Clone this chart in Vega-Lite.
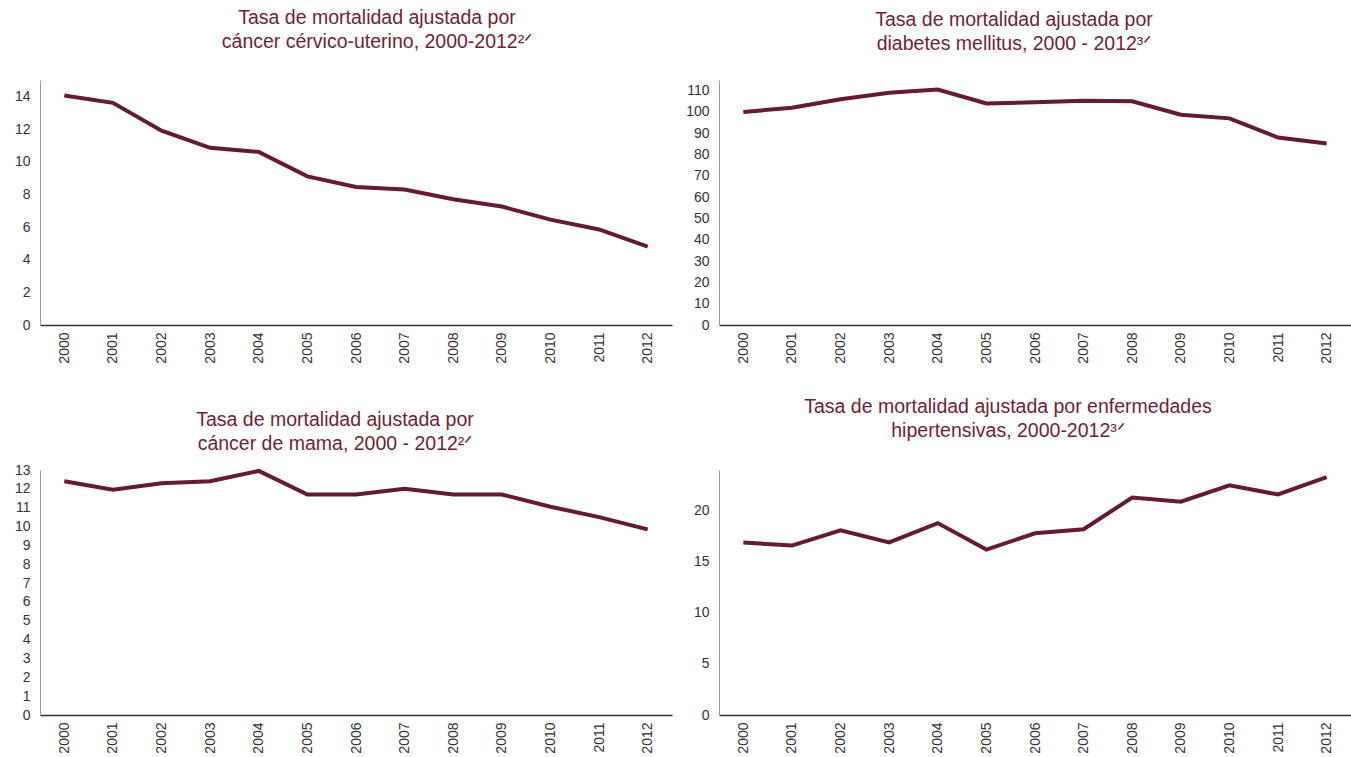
{
  "$schema": "https://vega.github.io/schema/vega-lite/v6.json",
  "padding": {"left": 14, "top": 7, "right": 0, "bottom": 0},
  "background": "white",
  "datasets": {
    "cervico": [
      {"year": "2000", "value": 14.05}, {"year": "2001", "value": 13.6}, {"year": "2002", "value": 11.9},
      {"year": "2003", "value": 10.85}, {"year": "2004", "value": 10.6}, {"year": "2005", "value": 9.1},
      {"year": "2006", "value": 8.45}, {"year": "2007", "value": 8.3}, {"year": "2008", "value": 7.7},
      {"year": "2009", "value": 7.25}, {"year": "2010", "value": 6.45}, {"year": "2011", "value": 5.85},
      {"year": "2012", "value": 4.8}
    ],
    "diabetes": [
      {"year": "2000", "value": 100}, {"year": "2001", "value": 102}, {"year": "2002", "value": 106},
      {"year": "2003", "value": 109}, {"year": "2004", "value": 110.5}, {"year": "2005", "value": 104},
      {"year": "2006", "value": 104.5}, {"year": "2007", "value": 105.3}, {"year": "2008", "value": 105},
      {"year": "2009", "value": 98.7}, {"year": "2010", "value": 97}, {"year": "2011", "value": 88},
      {"year": "2012", "value": 85.2}
    ],
    "mama": [
      {"year": "2000", "value": 12.4}, {"year": "2001", "value": 11.95}, {"year": "2002", "value": 12.3},
      {"year": "2003", "value": 12.4}, {"year": "2004", "value": 12.95}, {"year": "2005", "value": 11.7},
      {"year": "2006", "value": 11.7}, {"year": "2007", "value": 12.0}, {"year": "2008", "value": 11.7},
      {"year": "2009", "value": 11.7}, {"year": "2010", "value": 11.05}, {"year": "2011", "value": 10.5},
      {"year": "2012", "value": 9.85}
    ],
    "hiper": [
      {"year": "2000", "value": 16.9}, {"year": "2001", "value": 16.6}, {"year": "2002", "value": 18.1},
      {"year": "2003", "value": 16.9}, {"year": "2004", "value": 18.8}, {"year": "2005", "value": 16.2},
      {"year": "2006", "value": 17.8}, {"year": "2007", "value": 18.2}, {"year": "2008", "value": 21.3},
      {"year": "2009", "value": 20.9}, {"year": "2010", "value": 22.5}, {"year": "2011", "value": 21.6},
      {"year": "2012", "value": 23.3}
    ]
  },
  "columns": 2,
  "spacing": {"row": 145, "column": 47},
  "bounds": "flush",
  "concat": [
    {
      "width": 632, "height": 245,
      "title": {"text": ["Tasa de mortalidad ajustada por", "cáncer cérvico-uterino, 2000-2012²ᐟ"], "dx": 21, "offset": 28},
      "data": {"name": "cervico"},
      "mark": {"type": "line", "color": "#641a30", "strokeWidth": 4},
      "encoding": {
        "x": {"field": "year", "type": "ordinal", "scale": {"type": "point", "padding": 0.5}},
        "y": {"field": "value", "type": "quantitative", "scale": {"domain": [0, 15], "nice": false}, "axis": {"values": [0, 2, 4, 6, 8, 10, 12, 14]}}
      }
    },
    {
      "width": 632, "height": 245,
      "title": {"text": ["Tasa de mortalidad ajustada por", "diabetes mellitus, 2000 - 2012³ᐟ"], "dx": -21, "offset": 26},
      "data": {"name": "diabetes"},
      "mark": {"type": "line", "color": "#641a30", "strokeWidth": 4},
      "encoding": {
        "x": {"field": "year", "type": "ordinal", "scale": {"type": "point", "padding": 0.5}},
        "y": {"field": "value", "type": "quantitative", "scale": {"domain": [0, 115], "nice": false}, "axis": {"values": [0, 10, 20, 30, 40, 50, 60, 70, 80, 90, 100, 110]}}
      }
    },
    {
      "width": 632, "height": 245,
      "title": {"text": ["Tasa de mortalidad ajustada por", "cáncer de mama, 2000 - 2012²ᐟ"], "dx": -21, "offset": 8},
      "data": {"name": "mama"},
      "mark": {"type": "line", "color": "#641a30", "strokeWidth": 4},
      "encoding": {
        "x": {"field": "year", "type": "ordinal", "scale": {"type": "point", "padding": 0.5}},
        "y": {"field": "value", "type": "quantitative", "scale": {"domain": [0, 13], "nice": false}, "axis": {"values": [0, 1, 2, 3, 4, 5, 6, 7, 8, 9, 10, 11, 12, 13]}}
      }
    },
    {
      "width": 632, "height": 245,
      "title": {"text": ["Tasa de mortalidad ajustada por enfermedades", "hipertensivas, 2000-2012³ᐟ"], "dx": -27, "offset": 28},
      "data": {"name": "hiper"},
      "mark": {"type": "line", "color": "#641a30", "strokeWidth": 4},
      "encoding": {
        "x": {"field": "year", "type": "ordinal", "scale": {"type": "point", "padding": 0.5}},
        "y": {"field": "value", "type": "quantitative", "scale": {"domain": [0, 24], "nice": false}, "axis": {"values": [0, 5, 10, 15, 20]}}
      }
    }
  ],
  "config": {
    "view": {"stroke": null},
    "font": "Liberation Sans",
    "title": {"font": "Liberation Sans", "fontSize": 19.5, "fontWeight": "normal", "color": "#6e1f37", "lineHeight": 24, "anchor": "middle"},
    "axis": {"labelFont": "Liberation Sans", "labelFontSize": 14, "labelColor": "#333333", "ticks": false, "grid": false, "title": null},
    "axisY": {"domainColor": "#9a9a9a", "domainWidth": 1, "labelPadding": 10},
    "axisX": {"domainColor": "#333333", "domainWidth": 1.5, "labelAngle": -90, "labelPadding": 7}
  }
}
